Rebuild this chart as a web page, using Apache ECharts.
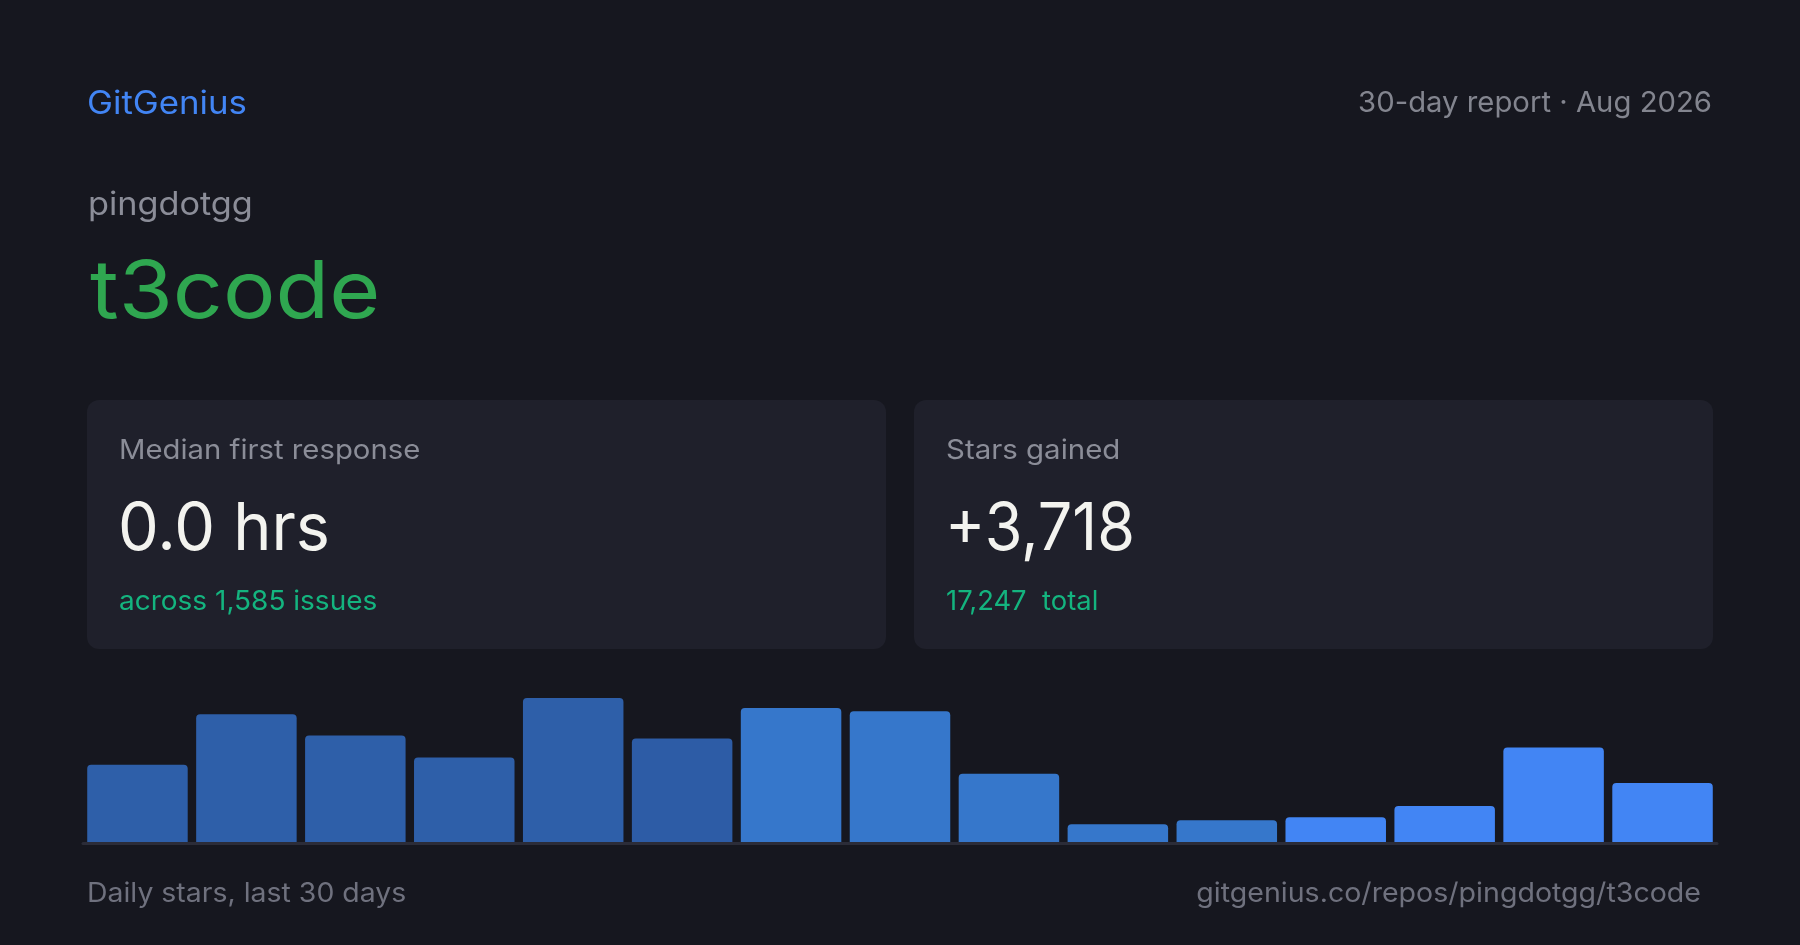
<!DOCTYPE html>
<html>
<head>
<meta charset="utf-8">
<script src="https://cdn.jsdelivr.net/npm/echarts@6/dist/echarts.min.js"></script>
<style>
  html, body { margin: 0; padding: 0; background: #16171f; }
  #chart { width: 1800px; height: 945px; }
</style>
</head>
<body>
<div id="chart"></div>
<script>
// ---- data ----
const categories = ['Jul 4–5','Jul 6–7','Jul 8–9','Jul 10–11','Jul 12–13','Jul 14–15','Jul 16–17','Jul 18–19','Jul 20–21','Jul 22–23','Jul 24–25','Jul 26–27','Jul 28–29','Jul 30–31','Aug 1–2'];
const dailyStars = [234, 384, 321, 255, 432, 312, 402, 393, 207, 57, 69, 78, 111, 285, 180];
const brand = 'GitGenius';
const reportLabel = '30-day report · Aug 2026';
const owner = 'pingdotgg';
const repo = 't3code';
const cardTitles = ['Median first response', 'Stars gained'];
const cardValues = ['0.0 hrs', '+3,718'];
const cardNotes = ['across 1,585 issues', '17,247  total'];
const footerLeft = 'Daily stars, last 30 days';
const footerRight = 'gitgenius.co/repos/pingdotgg/t3code';

// ---- style ----
const FONT = 'Inter, "Noto Sans", sans-serif';
const barColors = ['#2e5fa9','#2e5fa9','#2e5fa9','#2e5fa9','#2e5fa9','#2d5ca6',
                   '#3677cb','#3677cb','#3677cb','#3677cb','#3677cb',
                   '#4285f4','#4285f4','#4285f4','#4285f4'];
const cardStyle = [
  { x: 87,  titleScale: 1.085, valueScale: 0.98,  noteScale: 1.037 },
  { x: 914, titleScale: 1.09,  valueScale: 0.925, noteScale: 1.015 }
];

const chart = echarts.init(document.getElementById('chart'), null, { renderer: 'canvas' });

function txt(x, y, text, size, color, align, sx) {
  return {
    type: 'text', x: x, y: y, z: 10, scaleX: sx || 1,
    style: {
      text: text, fill: color, font: '400 ' + size + 'px ' + FONT,
      align: align || 'left', verticalAlign: 'middle'
    }
  };
}
function card(i) {
  const c = cardStyle[i];
  const x = c.x;
  return [
    { type: 'rect', z: 1, shape: { x: x, y: 400, width: 799, height: 249, r: 12 }, style: { fill: '#1f202b' } },
    txt(x + 32, 451, cardTitles[i], 27, '#8b8d98', 'left', c.titleScale),
    txt(x + 31, 530, cardValues[i], 66, '#f3f3ef', 'left', c.valueScale),
    txt(x + 32, 602, cardNotes[i], 27, '#14b47f', 'left', c.noteScale)
  ];
}

const option = {
  backgroundColor: '#16171f',
  animation: false,
  grid: { left: 83, right: 83, top: 698, bottom: 101.5, containLabel: false },
  xAxis: {
    type: 'category', data: categories, z: 5,
    axisLine: { show: true, lineStyle: { color: '#2b2c38', width: 3 } },
    axisTick: { show: false }, axisLabel: { show: false }, splitLine: { show: false }
  },
  yAxis: {
    type: 'value', min: 0, max: 432,
    axisLine: { show: false }, axisTick: { show: false }, axisLabel: { show: false }, splitLine: { show: false }
  },
  series: [{
    type: 'bar', data: dailyStars, barWidth: 100.5,
    itemStyle: {
      borderRadius: [4, 4, 0, 0],
      color: function (p) { return barColors[p.dataIndex]; }
    }
  }],
  graphic: [
    txt(87, 104, brand, 32, '#4285f4', 'left', 1.087),
    txt(1712, 103, reportLabel, 29, '#83858f', 'right', 1.01),
    txt(88, 205, owner, 32, '#8b8d98', 'left', 1.07),
    txt(90, 294, repo, 80, '#2fa750', 'left', 1.096),
    ...card(0),
    ...card(1),
    txt(87, 894, footerLeft, 27, '#6f717e', 'left', 1.053),
    txt(1701, 894, footerRight, 27, '#6f717e', 'right', 1.058)
  ]
};
chart.setOption(option);
</script>
</body>
</html>
